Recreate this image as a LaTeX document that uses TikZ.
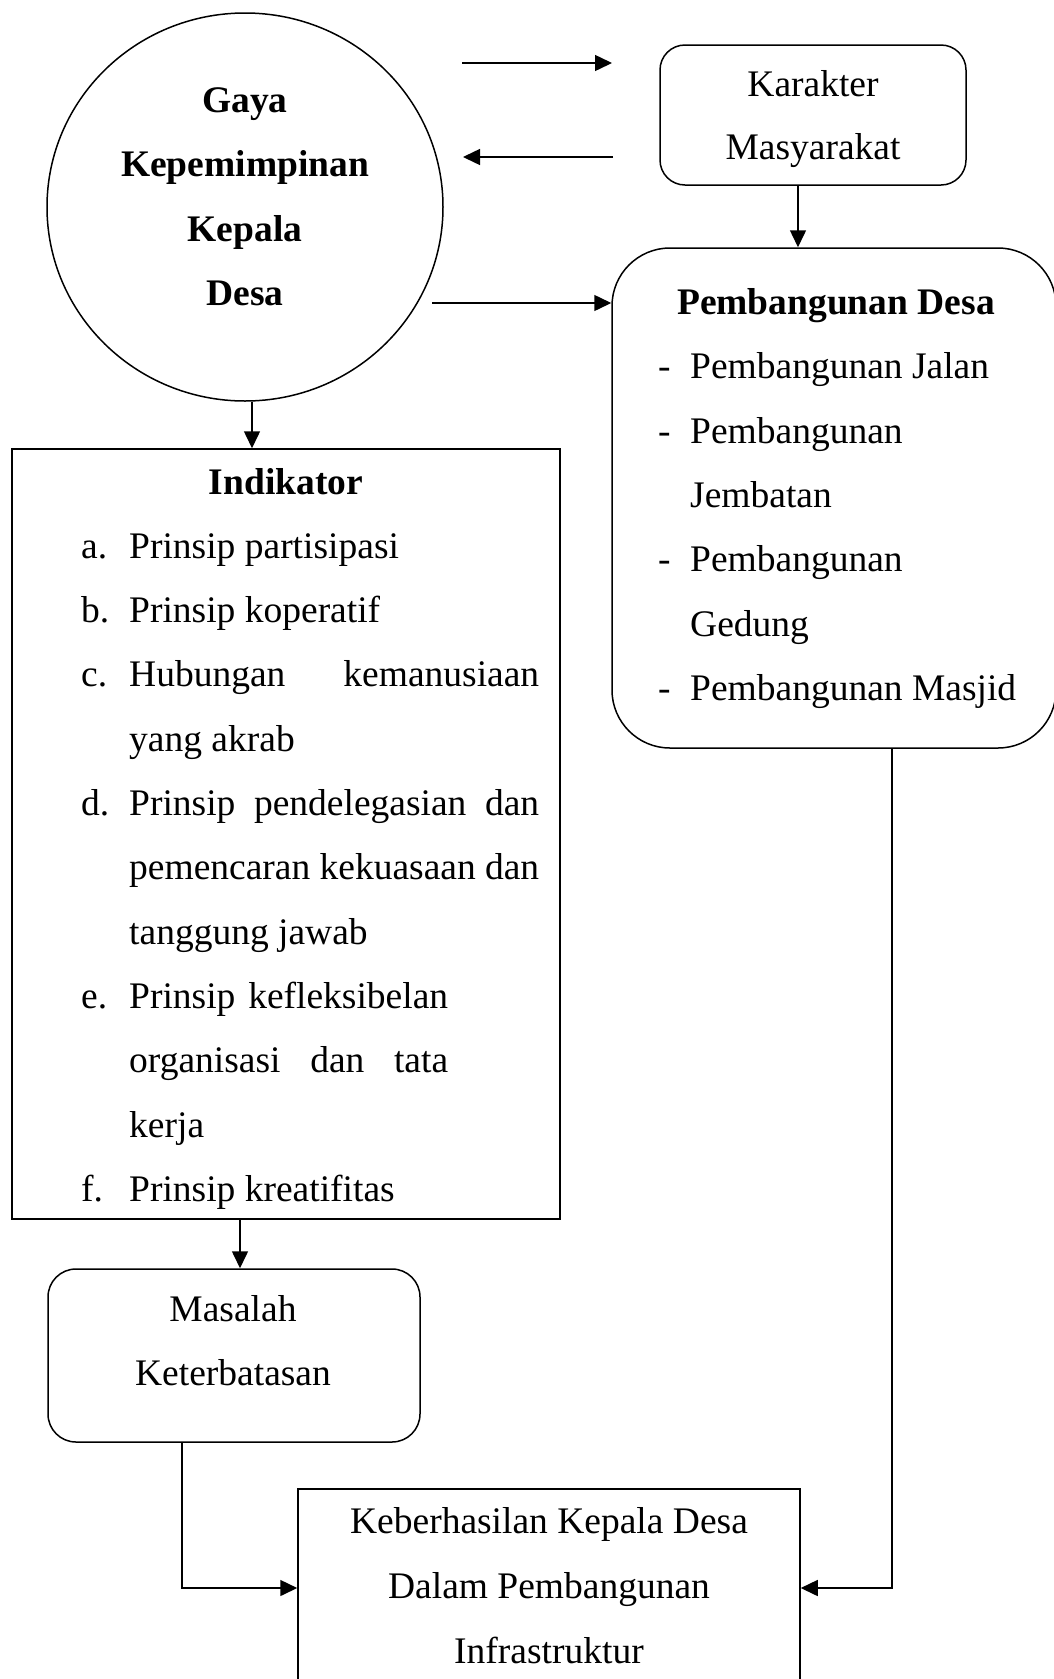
\documentclass[tikz,border=0pt]{standalone}
\usepackage{fontspec}
\setmainfont{Liberation Serif}
\usetikzlibrary{shapes.geometric,arrows.meta,calc}
\newcommand\myfs{\fontsize{37.5}{45}\selectfont}
\begin{document}
\begin{tikzpicture}[x=1pt,y=-1pt,
  shapebox/.style={draw,line width=1.5pt,inner sep=0pt},
  txt/.style={anchor=base,inner sep=0pt,font=\myfs},
  txtb/.style={anchor=base,inner sep=0pt,font=\myfs\bfseries},
  txtl/.style={anchor=base west,inner sep=0pt,font=\myfs},
  arr/.style={line width=1.5pt,-{Triangle[length=17pt,width=16pt]}}]
\fill[white] (0,0) rectangle (1054,1679);
\clip (0,0) rectangle (1054,1679);
% shapes
\node[shapebox,ellipse,minimum width=396pt,minimum height=388pt] (gaya) at (245,207) {};
\node[shapebox,rounded corners=25pt,minimum width=306pt,minimum height=140pt] (kar) at (813,115) {};
\node[shapebox,rounded corners=58pt,minimum width=444pt,minimum height=500pt] (pd) at (834,498) {};
\node[shapebox,minimum width=548pt,minimum height=770pt] (ind) at (286,834) {};
\node[shapebox,rounded corners=28pt,minimum width=372pt,minimum height=173pt] (mas) at (234,1355.5) {};
\node[shapebox,minimum width=502pt,minimum height=231pt] (kb) at (549,1604.5) {};
% texts: Gaya
\node[txtb] (g1) at (245,112) {Gaya};
\node[txtb] (g2) at (245,176.5) {Kepemimpinan};
\node[txtb] (g3) at (245,241) {Kepala};
\node[txtb] (g4) at (245,305.5) {Desa};
% Karakter
\node[txt] (k1) at (813,96) {Karakter};
\node[txt] (k2) at (813,159) {Masyarakat};
% Pembangunan Desa
\node[txtb] (p0) at (836,314.5) {Pembangunan Desa};
\node[txtl] (pd1) at (658,378.8) {-};
\node[txtl] (p1) at (690,378.8) {Pembangunan Jalan};
\node[txtl] (pd2) at (658,443.1) {-};
\node[txtl] (p2) at (690,443.1) {Pembangunan};
\node[txtl] (p3) at (690,507.4) {Jembatan};
\node[txtl] (pd4) at (658,571.7) {-};
\node[txtl] (p4) at (690,571.7) {Pembangunan};
\node[txtl] (p5) at (690,636) {Gedung};
\node[txtl] (pd6) at (658,700.3) {-};
\node[txtl] (p6) at (690,700.3) {Pembangunan Masjid};
% Indikator
\node[txtb] (i0) at (286,494) {Indikator};
\node[txtl] (la) at (81,558.3) {a.};
\node[txtl] (ia) at (129,558.3) {Prinsip partisipasi};
\node[txtl] (lb) at (81,622.6) {b.};
\node[txtl] (ib) at (129,622.6) {Prinsip koperatif};
\node[txtl] (lc) at (81,686.9) {c.};
\node[txtl] (ic1) at (129,686.9) {\makebox[410pt][s]{Hubungan kemanusiaan}};
\node[txtl] (ic2) at (129,751.2) {yang akrab};
\node[txtl] (ld) at (81,815.5) {d.};
\node[txtl] (id1) at (129,815.5) {\makebox[410pt][s]{Prinsip pendelegasian dan}};
\node[txtl] (id2) at (129,879.8) {\makebox[410pt][s]{pemencaran kekuasaan dan}};
\node[txtl] (id3) at (129,944.1) {tanggung jawab};
\node[txtl] (le) at (81,1008.4) {e.};
\node[txtl] (ie1) at (129,1008.4) {\makebox[319pt][s]{Prinsip kefleksibelan}};
\node[txtl] (ie2) at (129,1072.7) {\makebox[319pt][s]{organisasi dan tata}};
\node[txtl] (ie3) at (129,1137) {kerja};
\node[txtl] (lf) at (81,1201.3) {f.};
\node[txtl] (if) at (129,1201.3) {Prinsip kreatifitas};
% Masalah
\node[txt] (m1) at (233,1321.7) {Masalah};
\node[txt] (m2) at (233,1385) {Keterbatasan};
% Keberhasilan
\node[txt] (kb1) at (549,1533) {Keberhasilan Kepala Desa};
\node[txt] (kb2) at (549,1598) {Dalam Pembangunan};
\node[txt] (kb3) at (549,1663) {Infrastruktur};
% connectors
\coordinate (a1s) at (462,63);
\coordinate (a1e) at (612,63);
\coordinate (a2s) at (613,157);
\coordinate (a2e) at (463,157);
\coordinate (a3s) at (432,303);
\coordinate (jy) at (0,1588);
\draw[arr] (a1s) -- (a1e);
\draw[arr] (a2s) -- (a2e);
\draw[arr] (a3s) -- (pd.west |- a3s);
\draw[arr] ([xshift=-15pt]kar.south) -- ([xshift=-15pt]kar.south |- pd.north);
\draw[arr] ([xshift=7pt]gaya.south) -- ([xshift=7pt]gaya.south |- ind.north);
\draw[arr] ([xshift=6pt]mas.north |- ind.south) -- ([xshift=6pt]mas.north);
\draw[arr] ([xshift=-52pt]mas.south) |- (kb.west |- jy);
\draw[arr] ([xshift=58pt]pd.south) |- (kb.east |- jy);
\end{tikzpicture}
\end{document}
